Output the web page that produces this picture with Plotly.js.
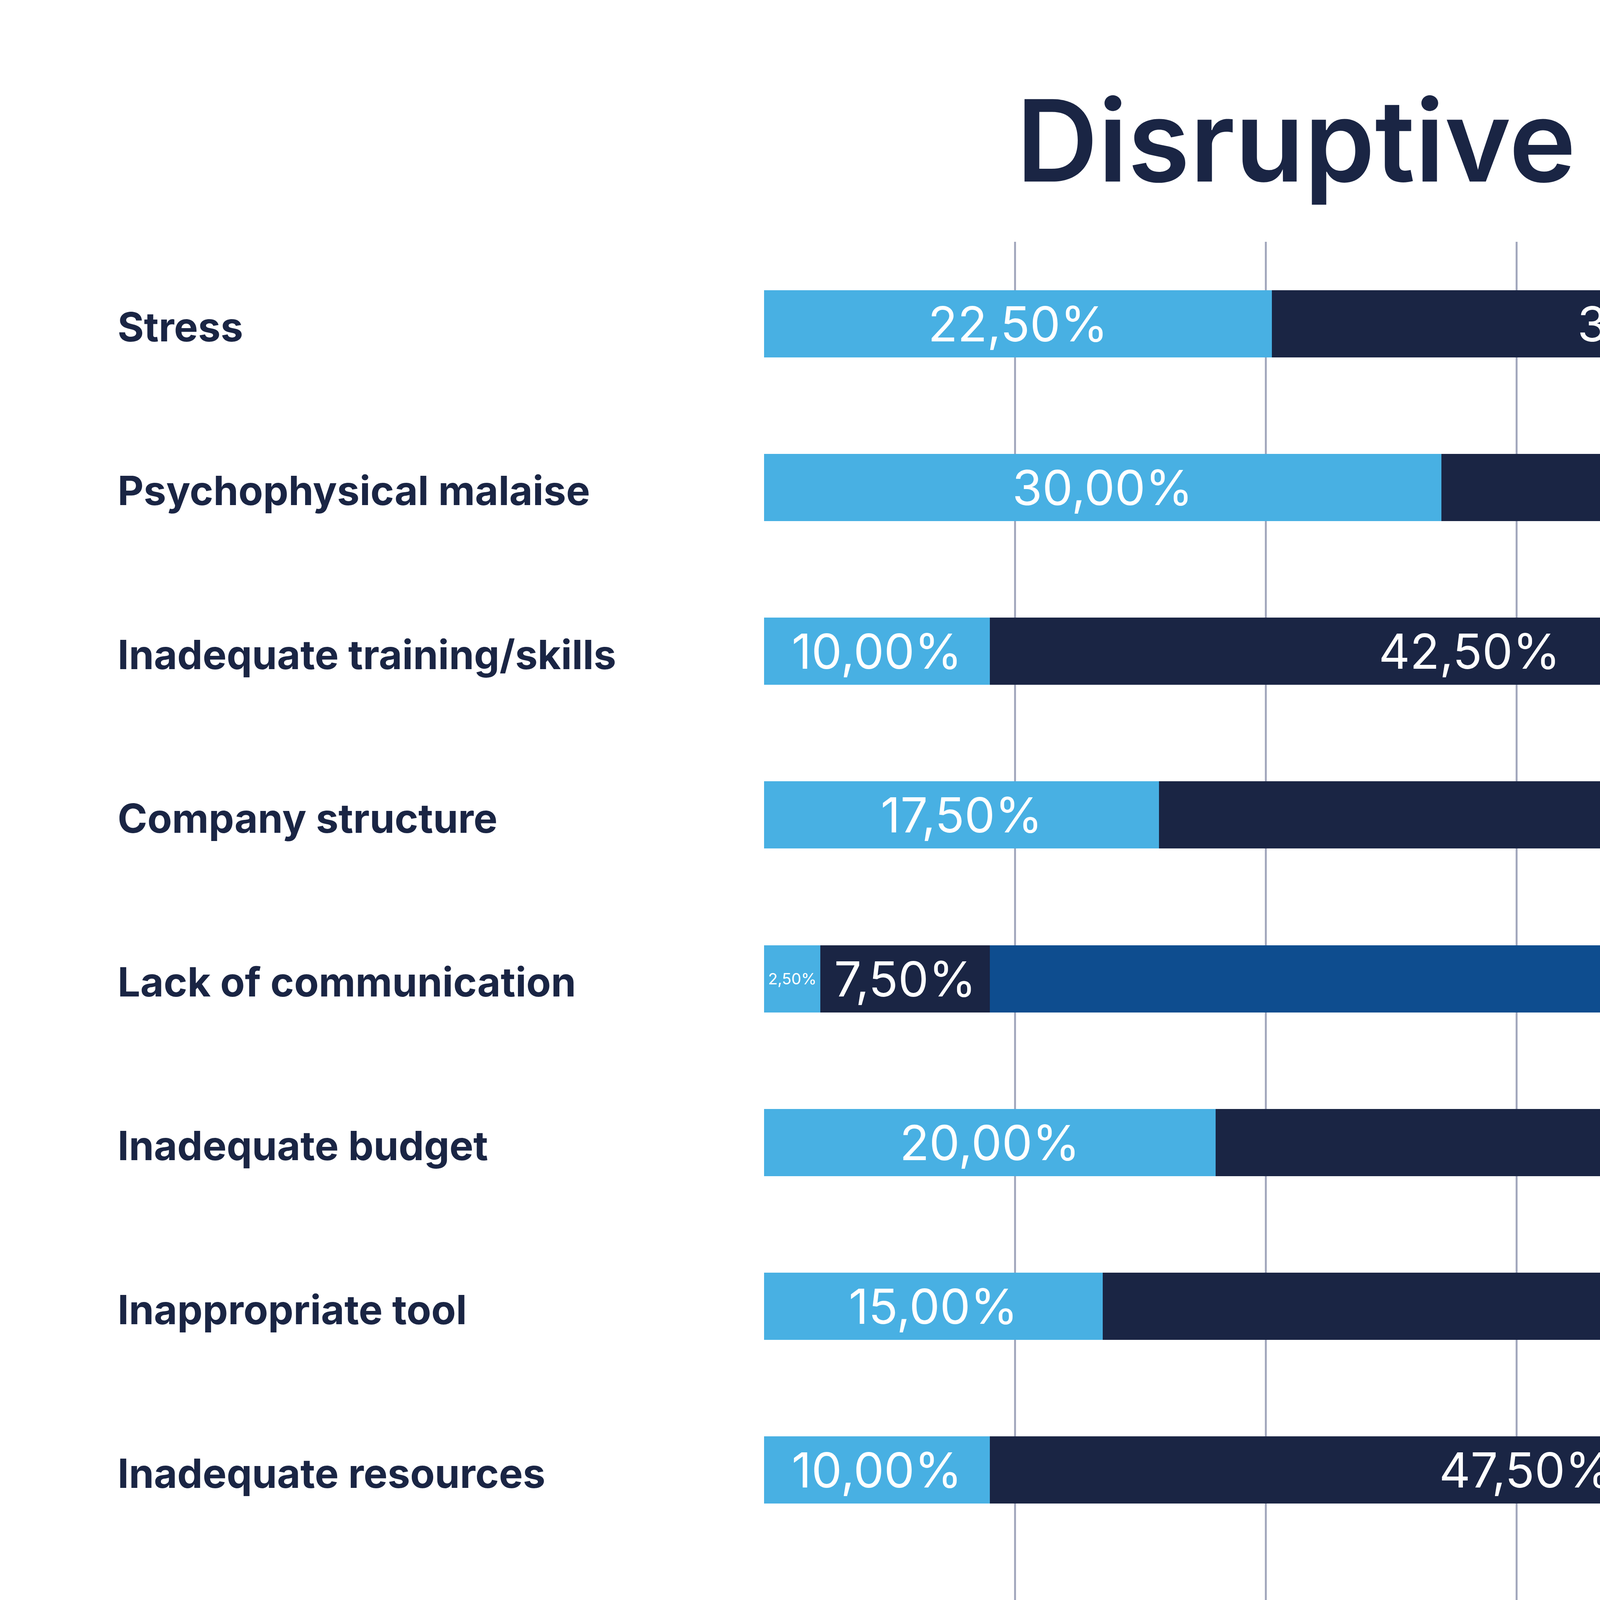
<!DOCTYPE html>
<html>
    <head>
        <script src="https://cdn.plot.ly/plotly-3.0.1.min.js"></script>
        <style>body{margin:0;background:#fff}</style>
    </head>
    <body>
        <div id="plot" style="width:8000px;height:6488px"></div>
        <script type="text/javascript">
            var categories = ['Stress', 'Psychophysical malaise', 'Inadequate training/skills', 'Company structure',
                'Lack of communication', 'Inadequate budget', 'Inappropriate tool', 'Inadequate resources',
                'Inadequate time', 'Demands for change', 'Undear objectives', 'Lack of leadership'];
            var little = [22.5, 30, 10, 17.5, 2.5, 20, 15, 10, 12.5, 22.5, 5, 5];
            var medium = [35, 32.5, 42.5, 52.5, 7.5, 55, 55, 47.5, 45, 50, 7.5, 7.5];
            var very = [42.5, 37.5, 47.5, 30, 90, 25, 30, 42.5, 42.5, 27.5, 87.5, 87.5];
            var seriesNames = ['Little/None', 'Medium', 'Very'];
            var colors = ['#48b0e3', '#1a2544', '#0e4d8f'];
            var tickLabels = ['0.00%', '20.00%', '30.00%', '40.00%', '50.00%', '60.00%', '70.00%', '80.00%', '90.00%', '10.00%'];

            var font = 'Inter, "Noto Sans", sans-serif';
            var navy = '#1a2544';
            function fmt(v) { return v.toFixed(2).replace('.', ',') + '%'; }

            var traces = [little, medium, very].map(function (vals, i) {
                return {
                    type: 'bar', orientation: 'h', y: categories, x: vals,
                    name: seriesNames[i], marker: {color: colors[i]},
                    text: vals.map(fmt), textposition: 'inside', insidetextanchor: 'middle',
                    textfont: {color: '#ffffff', family: font, size: vals.map(v => v < 6 ? 40 : 124)},
                    constraintext: 'none', hoverinfo: 'none', showlegend: false
                };
            });

            var grid = tickLabels.map((t, i) => i * 100 / 9);
            var annotations = [];
            categories.forEach(function (c) {
                annotations.push({xref: 'paper', yref: 'y', x: -0.2867, y: c, xanchor: 'left', yshift: -8,
                    text: '<b>' + c + '</b>', showarrow: false, font: {family: font, size: 103, color: navy}});
            });
            tickLabels.forEach(function (t, i) {
                var a = {xref: 'x', yref: 'paper', x: grid[i] + 1.3, y: -0.043, text: t, showarrow: false,
                    xanchor: 'center', font: {family: font, size: 124, color: navy}};
                if (i === 0) { a.x = 0; a.xanchor = 'left'; }
                if (i === tickLabels.length - 1) { a.x = 100; a.xanchor = 'right'; }
                annotations.push(a);
            });
            var legendX = [0.2909, 0.4717, 0.6093];
            seriesNames.forEach(function (n, i) {
                annotations.push({xref: 'paper', yref: 'paper', x: legendX[i], y: -0.091, xanchor: 'left',
                    text: '<span style="color:' + colors[i] + '">●</span>  ' + n, showarrow: false,
                    font: {family: font, size: 124, color: navy}});
            });
            annotations.push({xref: 'paper', yref: 'paper', x: 0.4665, y: -0.145, xanchor: 'center',
                text: '© Institute of Project Management', showarrow: false,
                font: {family: font, size: 98, color: navy}});

            Plotly.newPlot('plot', traces, {
                width: 8000, height: 6488,
                barmode: 'stack', bargap: 0.59,
                margin: {l: 1956, r: 265, t: 619, b: 838},
                paper_bgcolor: '#ffffff', plot_bgcolor: '#ffffff',
                title: {text: 'Disruptive Factors', x: 0.485, xanchor: 'center', y: 0.944, yanchor: 'middle',
                    font: {family: font, size: 290, color: navy, weight: 600}},
                xaxis: {range: [0, 100], tickvals: grid, showticklabels: false, showgrid: true,
                    gridcolor: '#a3a8bd', gridwidth: 5, zeroline: false, ticks: ''},
                yaxis: {autorange: 'reversed', showticklabels: false, showgrid: false, zeroline: false, ticks: ''},
                annotations: annotations
            }, {displayModeBar: false});
        </script>
    </body>
</html>
